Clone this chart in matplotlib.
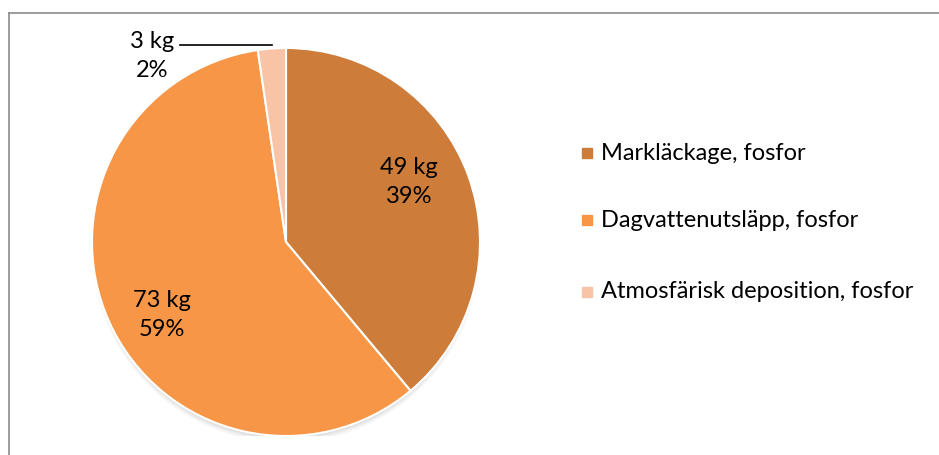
import numpy as np
import matplotlib
matplotlib.use("Agg")
import matplotlib.pyplot as plt
from matplotlib.patches import Circle

categories = ["Markläckage, fosfor", "Dagvattenutsläpp, fosfor", "Atmosfärisk deposition, fosfor"]
values_kg = [48.6, 73.4, 2.9]
colors = ["#CD7C3A", "#F79646", "#F9C3A6"]

plt.rcParams['font.family'] = ['Lato', 'DejaVu Sans']

W, H = 939, 455
fig = plt.figure(figsize=(W/100, H/100), dpi=100)

# outer chart frame (left and top visible)
fig.add_artist(plt.Line2D([8.5/W, 8.5/W], [0, 1-12.5/H], color="#8c8c8c", lw=1.2, transform=fig.transFigure))
fig.add_artist(plt.Line2D([8.5/W, 1], [1-12.5/H, 1-12.5/H], color="#8c8c8c", lw=1.2, transform=fig.transFigure))

cx, cy, R = 286, 242, 194
ax = fig.add_axes([(cx-R)/W, 1-(cy+R)/H, 2*R/W, 2*R/H])
ax.set_xlim(-1, 1); ax.set_ylim(-1, 1)
ax.set_aspect('equal')
ax.axis('off')

# soft shadow (mostly below the pie)
for i, a in enumerate([0.03, 0.04, 0.05, 0.06, 0.07]):
    ax.add_patch(Circle((0.0, -0.035 + i*0.004), 1.0 - i*0.006, color="black", alpha=a, lw=0, zorder=0))

wedges, _ = ax.pie(values_kg, colors=colors, startangle=90, counterclock=False, radius=1.0,
                   wedgeprops=dict(edgecolor="white", linewidth=1.5), frame=False)
for w in wedges:
    w.set_zorder(2)
ax.set_xlim(-1, 1); ax.set_ylim(-1, 1)

fs = 17
ls = 1.5
total = sum(values_kg)
label_pos = [(0.705, 26), (0.74, 210.5), None]
for i, (v, w) in enumerate(zip(values_kg, wedges)):
    txt = f"{round(v):.0f} kg\n{round(100*v/total):.0f}%"
    if label_pos[i] is not None:
        r, ang = label_pos[i]
        x, y = r*np.cos(np.radians(ang)), r*np.sin(np.radians(ang))
        ax.text(x, y, txt, ha="center", va="center", fontsize=fs, linespacing=ls, zorder=5)
    else:
        ax.text(-0.69, 0.96, txt, ha="center", va="center", fontsize=fs, linespacing=ls, zorder=5,
                clip_on=False)
        ax.plot([-0.546, -0.072], [1.013, 1.013], color="black", lw=1.2, clip_on=False, zorder=5)

# legend
leg_y = [153, 220, 292]
for c, lab, yy in zip(colors, categories, leg_y):
    fig.patches.append(plt.Rectangle((582/W, 1-(yy+5)/H), 10/W, 10/H, color=c, transform=fig.transFigure))
    fig.text(601/W, 1-yy/H, lab, ha="left", va="center", fontsize=fs)

fig.savefig("out.png", dpi=100, facecolor="white")
